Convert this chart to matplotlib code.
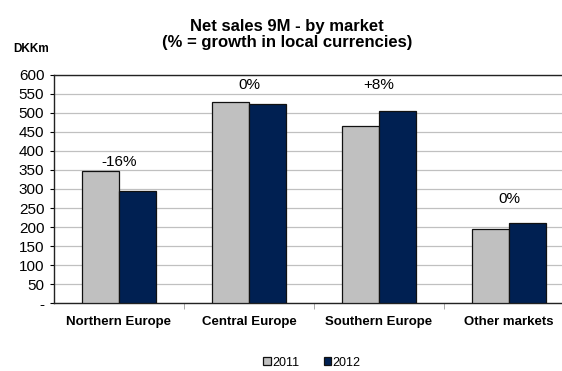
import matplotlib
matplotlib.use("Agg")
import matplotlib.pyplot as plt
import numpy as np

markets = ["Northern Europe", "Central Europe", "Southern Europe", "Other markets"]
sales_2011 = [347, 527, 465, 194]
sales_2012 = [294, 524, 505, 211]
growth = ["-16%", "0%", "+8%", "0%"]
growth_y = [372, 572, 572, 274]
yticks = [0, 50, 100, 150, 200, 250, 300, 350, 400, 450, 500, 550, 600]
ytick_labels = ["-"] + [str(v) for v in yticks[1:]]

plt.rcParams["font.family"] = ["Liberation Sans", "DejaVu Sans"]

fig = plt.figure(figsize=(5.62, 3.71), dpi=100)
ax = fig.add_axes([0.0961, 0.1825, 0.925, 0.6162])

x = np.arange(len(markets))
w = 0.285
ax.bar(x - w / 2, sales_2011, w, color="#c0c0c0", edgecolor="#111111", lw=0.9, label="2011", zorder=3)
ax.bar(x + w / 2, sales_2012, w, color="#002052", edgecolor="#111111", lw=0.9, label="2012", zorder=3)

for xi, g, gy in zip(x, growth, growth_y):
    ax.text(xi, gy, g, ha="center", va="center", fontsize=11)

ax.set_xlim(-0.5, len(markets) - 0.5)
ax.set_ylim(0, 600)
ax.set_yticks(yticks)
ax.set_yticklabels(ytick_labels, fontsize=11)
ax.yaxis.grid(True, color="#c0c0c0", lw=0.9, zorder=0)
ax.tick_params(axis="y", length=3, width=0.8, pad=4)

# category labels between boundary ticks
ax.set_xticks(x)
ax.set_xticklabels(markets, fontsize=9.5, fontweight="bold")
ax.tick_params(axis="x", length=0, pad=9)
ax.set_xticks(np.arange(0.5, len(markets) - 0.5), minor=True)
ax.tick_params(axis="x", which="minor", length=4, color="#999999")

for s in ["left", "top", "bottom"]:
    ax.spines[s].set_color("#222222")
    ax.spines[s].set_linewidth(1.0)
ax.spines["right"].set_visible(False)

fig.text(0.511, 0.907, "Net sales 9M - by market\n(% = growth in local currencies)",
         ha="center", va="center", fontsize=12, fontweight="bold", linespacing=1.15)
fig.text(0.023, 0.868, "DKKm", ha="left", va="center", fontsize=8.5, fontweight="bold")

fig.legend(loc="center", bbox_to_anchor=(0.555, 0.022), ncol=2, frameon=False, fontsize=9,
           handlelength=0.6, handleheight=0.6, handletextpad=0.1, columnspacing=2.0,
           borderpad=0)

fig.savefig("out.png", dpi=100)
